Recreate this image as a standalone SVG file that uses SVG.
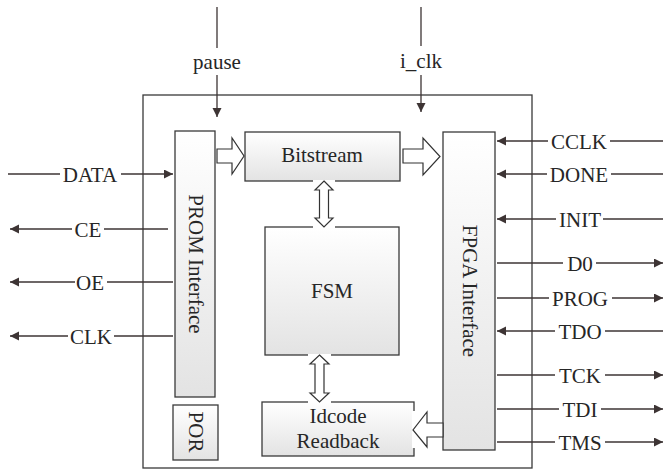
<svg xmlns="http://www.w3.org/2000/svg" width="664" height="470" viewBox="0 0 664 470">
<style>
.box{stroke:#3a3a3a;stroke-width:1.3;fill:url(#g)}
.frame{stroke:#3a3a3a;stroke-width:1.3;fill:#ffffff}
.ln{stroke:#3d3434;stroke-width:1.3;fill:none}
.ar{stroke:#3d3434;stroke-width:1.3;fill:none;marker-end:url(#ah)}
.blk{stroke:#333333;stroke-width:1.2;fill:#ffffff}
.bg{fill:#ffffff;stroke:none}
.t{font-family:'Liberation Serif','Times New Roman','DejaVu Serif',serif;font-size:21px;fill:#262626;text-anchor:middle}
</style>
<defs>
<linearGradient id="g" x1="0" y1="0" x2="0" y2="1">
<stop offset="0" stop-color="#ffffff"/>
<stop offset="1" stop-color="#e3e3e3"/>
</linearGradient>
<marker id="ah" markerUnits="userSpaceOnUse" markerWidth="10" markerHeight="10" refX="9" refY="4.5" orient="auto">
<path d="M0,0 L9,4.5 L0,9 z" fill="#3d3434"/>
</marker>
</defs>
<g id="main-frame"><rect class="frame" x="143" y="95" width="389" height="373"/></g>
<g id="prom-interface" class="t" font-family="Liberation Serif, serif"><rect class="box" x="175" y="131" width="40" height="266"/><text transform="translate(189,264) rotate(90)">PROM Interface</text></g>
<g id="por" class="t" font-family="Liberation Serif, serif"><rect class="box" x="173" y="405" width="45" height="55"/><text transform="translate(189,432) rotate(90)">POR</text></g>
<g id="bitstream" class="t" font-family="Liberation Serif, serif"><rect class="box" x="245" y="132" width="155" height="49"/><text x="322" y="162">Bitstream</text></g>
<g id="fsm" class="t" font-family="Liberation Serif, serif"><rect class="box" x="265" y="227" width="134" height="128"/><text x="332" y="298">FSM</text></g>
<g id="idcode" class="t" font-family="Liberation Serif, serif"><rect class="box" x="262" y="402" width="152" height="54"/><text x="338" y="423">Idcode</text><text x="338" y="448">Readback</text></g>
<g id="fpga-interface" class="t" font-family="Liberation Serif, serif"><rect class="box" x="443" y="132" width="52" height="318"/><text transform="translate(463,291) rotate(90)">FPGA Interface</text></g>
<g id="connectors">
<g class="t" font-family="Liberation Serif, serif">
<text x="217" y="69">pause</text>
<text x="421" y="68">i_clk</text>
<text x="90" y="182">DATA</text>
<text x="88" y="237">CE</text>
<text x="90" y="290">OE</text>
<text x="91" y="344">CLK</text>
<text x="579" y="149">CCLK</text>
<text x="579" y="182">DONE</text>
<text x="580" y="227">INIT</text>
<text x="580" y="271">D0</text>
<text x="580" y="306">PROG</text>
<text x="580" y="339">TDO</text>
<text x="580" y="383">TCK</text>
<text x="580" y="417">TDI</text>
<text x="580" y="450">TMS</text>
</g>
<path class="ln" d="M217,7 V48"/><path class="ar" d="M217,75 V117"/>
<path class="ln" d="M421,7 V46"/><path class="ar" d="M421,75 V112"/>
<path class="ln" d="M8,174 H60"/><path class="ar" d="M121,174 H173"/>
<path class="ar" d="M72,229 H10"/><path class="ln" d="M104,229 H168"/>
<path class="ar" d="M75,282 H10"/><path class="ln" d="M107,282 H173"/>
<path class="ar" d="M68,336 H10"/><path class="ln" d="M114,336 H173"/>
<path class="ln" d="M663,141 H610"/><path class="ar" d="M548,141 H497"/>
<path class="ln" d="M663,174 H611"/><path class="ar" d="M547,174 H497"/>
<path class="ln" d="M663,219 H603"/><path class="ar" d="M556,219 H497"/>
<path class="ln" d="M497,263 H563"/><path class="ar" d="M596,263 H663"/>
<path class="ln" d="M497,298 H549"/><path class="ar" d="M612,298 H663"/>
<path class="ln" d="M663,331 H605"/><path class="ar" d="M555,331 H497"/>
<path class="ln" d="M497,375 H555"/><path class="ar" d="M605,375 H663"/>
<path class="ln" d="M497,409 H559"/><path class="ar" d="M601,409 H663"/>
<path class="ln" d="M497,442 H555"/><path class="ar" d="M605,442 H663"/>
<polygon class="blk" points="217,149 232,149 232,138 244,156 232,174 232,163 217,163"/>
<polygon class="blk" points="403,149 423,149 423,138 440,156.5 423,175 423,163 403,163"/>
<rect class="bg" x="412" y="411" width="30" height="37"/>
<polygon class="blk" points="443,423 427,423 427,412 413,430 427,447 427,437 443,437"/>
<rect class="bg" x="313" y="180" width="22" height="48"/>
<polygon class="blk" points="324,181 333,190 328.5,190 328.5,218 333,218 324,227 315,218 319.5,218 319.5,190 315,190"/>
<rect class="bg" x="308" y="354" width="23" height="49"/>
<polygon class="blk" points="319.5,355 329,364 324,364 324,393 329,393 319.5,402 310,393 315,393 315,364 310,364"/>
</g>
</svg>
